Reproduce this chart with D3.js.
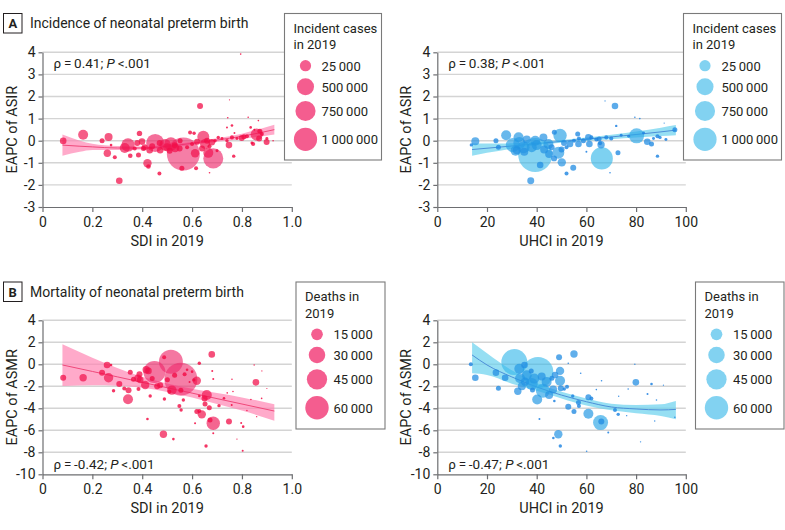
<!DOCTYPE html>
<html><head><meta charset="utf-8">
<script src="https://cdn.jsdelivr.net/npm/d3@7"></script>
<style>
html,body{margin:0;padding:0;background:#fff;}
svg{display:block;font-family:Roboto,"Noto Sans",sans-serif;}
</style></head>
<body>
<svg id="chart" width="785" height="530"></svg>
<script>
// ---------------- DATA ----------------
// Panel A left: incidence vs SDI  [SDI, EAPC of ASIR, incident cases]
const incSdiPoints = [
 [0.083,-0.01,113000],[0.163,0.27,260000],[0.239,0.0,65000],[0.265,0.17,166000],[0.26,-0.57,142000],
 [0.29,-0.75,42000],[0.308,-1.81,113000],[0.275,-0.2,18000],[0.343,-0.19,466000],[0.33,-0.33,260000],
 [0.352,-0.68,55000],[0.389,0.33,76000],[0.399,-0.04,113000],[0.385,-0.65,65000],[0.421,-1.02,183000],
 [0.425,-1.17,55000],[0.452,-0.1,841000],[0.43,-0.43,113000],[0.405,-0.35,65000],[0.472,-0.43,113000],
 [0.469,-1.48,42000],[0.492,-0.19,349000],[0.515,-0.15,466000],[0.532,-0.33,183000],[0.565,-0.6,2830000],
 [0.559,-1.25,65000],[0.552,0.0,65000],[0.592,0.37,42000],[0.608,0.34,30000],[0.612,-0.57,183000],
 [0.616,-1.25,42000],[0.645,0.18,374000],[0.652,-0.15,260000],[0.685,-0.8,1040000],[0.665,-0.55,260000],
 [0.632,1.57,93000],[0.679,-0.07,113000],[0.692,0.0,30000],[0.705,0.15,30000],[0.74,0.0,30000],
 [0.748,-0.2,113000],[0.76,0.15,42000],[0.767,-0.7,30000],[0.76,0.69,18000],[0.795,3.92,7000],
 [0.799,0.12,93000],[0.808,0.18,65000],[0.835,0.6,18000],[0.845,-0.15,42000],[0.859,0.28,374000],
 [0.872,0.43,65000],[0.869,0.1,93000],[0.899,-0.06,93000],[0.925,0.0,7000],[0.75,1.85,4000],
 [0.825,1.06,7000],[0.743,1.04,7000],[0.866,0.91,7000],[0.74,0.6,10000],[0.37,-0.35,42000],
 [0.38,-0.1,93000],[0.41,-0.3,93000],[0.44,-0.25,93000],[0.47,-0.1,93000],[0.5,-0.3,166000],
 [0.51,-0.45,93000],[0.53,-0.2,93000],[0.55,-0.35,93000],[0.58,-0.3,42000],[0.6,-0.15,42000],
 [0.62,-0.05,93000],[0.64,-0.35,93000],[0.66,0.0,93000],[0.67,-0.25,42000],[0.7,-0.45,23000],
 [0.72,0.1,23000],[0.78,0.1,23000],[0.82,0.2,42000],[0.84,-0.1,23000],[0.88,0.3,42000],
 [0.9,0.1,23000],[0.67,-1.45,7000],[0.77,0.35,10000],[0.85,0.5,10000]
];
// Panel A right: incidence vs UHCI  [UHCI, EAPC of ASIR, incident cases]
const incUhciPoints = [
 [13.7,-0.19,30000],[15.3,-0.03,166000],[23.6,0.0,65000],[24.6,-0.3,65000],[27.7,0.25,260000],
 [30.4,-0.2,509000],[32.7,0.16,260000],[32,-0.43,166000],[34.7,-0.3,374000],[39.4,-0.65,3000000],
 [37.6,-1.81,127000],[39.4,0.0,260000],[41.4,-1.1,113000],[42.7,0.15,166000],[44.7,-0.15,260000],
 [47.1,0.38,65000],[49.4,0.24,466000],[48.7,-0.55,374000],[50.1,-0.98,183000],[52,-1.48,42000],
 [54.7,-1.22,93000],[53.4,-0.15,113000],[56.5,0.3,65000],[56.8,-0.15,113000],[58.8,0.0,65000],
 [60.8,0.15,113000],[61.2,-0.15,113000],[65.9,-0.18,142000],[66.2,-0.8,1260000],[65.1,0.08,65000],
 [71.5,1.57,113000],[72,0.67,15000],[80.2,0.22,584000],[79.5,1.06,7000],[81.5,1.0,7000],
 [84.5,-0.05,113000],[86.2,-0.15,65000],[88.6,-0.7,30000],[88.6,0.2,42000],[89.6,0.15,30000],
 [95.6,0.5,65000],[91.3,0.8,4000],[67.5,1.8,4000],[69.5,-1.45,7000],[60,-0.5,10000],
 [72.7,-0.54,65000],[65.5,-0.12,42000],[35,-0.5,166000],[36,0.05,166000],[38,-0.3,260000],
 [40,-0.2,260000],[43,-0.4,166000],[45,-0.6,166000],[46,-0.3,93000],[47,-0.8,93000],
 [50,-0.4,93000],[51,-0.1,93000],[52,-0.3,42000],[55,0.0,42000],[57,0.1,42000],
 [62,0.15,42000],[64,0.05,42000],[68,0.15,42000],[70,0.1,42000],[74,0.25,23000],
 [77,0.2,23000],[83,0.35,23000],[87,0.1,23000],[92,0.05,23000],[33,-0.1,374000],[31.5,-0.45,260000]
];
// Panel B left: mortality vs SDI  [SDI, EAPC of ASMR, deaths]
const morSdiPoints = [
 [0.083,-1.22,3950],[0.163,-1.22,6000],[0.239,-0.76,3950],[0.259,-0.06,4800],[0.275,-0.06,740],
 [0.265,-1.22,9700],[0.285,-2.4,1270],[0.308,-1.8,3950],[0.328,-2.2,1750],[0.345,-2.35,3950],
 [0.343,-3.18,10960],[0.352,-0.73,2740],[0.365,-1.36,2740],[0.383,-1.27,6000],[0.389,-0.9,3950],
 [0.392,-1.42,4800],[0.385,-2.24,1750],[0.412,-1.88,7700],[0.416,-0.5,6000],[0.425,-0.6,4800],
 [0.449,-0.7,53000],[0.472,-1.9,3950],[0.488,0.64,1750],[0.515,0.24,63100],[0.555,-1.35,119000],
 [0.519,-2.35,9700],[0.555,-2.35,2740],[0.501,-1.4,2740],[0.509,-2.5,1750],[0.485,-6.36,6000],
 [0.525,-6.8,740],[0.549,-3.8,1750],[0.565,-3.24,1270],[0.619,-1.5,7700],[0.629,0.09,1270],
 [0.679,0.9,4800],[0.659,-2.79,10960],[0.65,-3.1,3950],[0.652,-3.6,2740],[0.619,-4.3,2740],
 [0.639,-4.55,7700],[0.629,-4.24,1750],[0.669,-3.95,2740],[0.685,-5.36,19700],[0.672,-5.06,2740],
 [0.656,-7.43,1270],[0.708,-3.76,1270],[0.748,-5.21,3950],[0.728,-3.09,740],[0.805,-5.67,740],
 [0.803,-7.85,440],[0.856,-1.64,4800],[0.681,-0.61,440],[0.685,-1.33,440],[0.6,-0.67,740],
 [0.607,-1.42,1270],[0.58,-0.5,740],[0.59,-1.6,440],[0.76,-1.36,280],[0.764,-2.47,280],
 [0.836,-3.2,280],[0.879,-3.1,280],[0.849,-0.06,215],[0.859,-4.76,215],[0.797,-5.33,440],
 [0.629,-2.88,740],[0.421,-4.97,740],[0.556,-4.15,1270],[0.432,-2.88,1270],[0.489,-3.15,1270],
 [0.612,-5.36,440],[0.685,-6.27,440],[0.741,-2.6,280],[0.759,-3.7,440],[0.46,-2.0,3950],
 [0.53,-1.0,2740],[0.57,-0.9,1750],[0.44,-1.3,2740],[0.88,-0.6,160],[0.9,-2.2,160],
 [0.82,-4.2,215],[0.78,-6.8,215]
];
// Panel B right: mortality vs UHCI  [UHCI, EAPC of ASMR, deaths]
const morUhciPoints = [
 [13.5,0.0,1750],[15.3,-1.22,4800],[23.6,-0.76,4800],[24.6,-2.18,2740],[27.3,-1.22,4800],
 [31,0.2,74100],[32.4,-2.45,6000],[35.1,-0.06,4800],[33.3,-1.27,10960],[35.3,-1.58,7700],
 [40.5,-0.75,105000],[42.5,-2.4,21500],[40.2,-3.2,10960],[49.4,-0.6,7700],[49.4,-1.5,10960],
 [49.7,-2.18,3950],[49,0.64,3950],[55,0.94,6000],[51.1,-2.24,1270],[52.7,-3.85,3950],
 [55,-4.3,2740],[56.8,-3.48,2740],[57,-3.79,1750],[60.8,-3.0,3950],[60.8,-4.5,10960],
 [65.7,-5.3,24700],[48.7,-6.36,7700],[49.5,-7.43,1270],[46.7,-6.7,740],[79.9,-1.64,4800],
 [86.2,-1.79,740],[84.6,-2.7,440],[71.5,-4.15,1750],[72.8,-4.55,1270],[68.8,-6.2,440],
 [60.1,-7.9,280],[41.1,-4.97,440],[47.1,-3.34,740],[52.2,-2.03,1750],[54.5,-2.88,1270],
 [66.1,-1.49,280],[57.7,-0.82,280],[52.7,0.09,280],[76.8,-2.24,280],[95.6,-4.82,280],
 [88.2,-3.24,280],[79.5,0.0,215],[87.5,-5.15,215],[81.8,-7.05,215],[76.2,-4.67,215],
 [46.6,-2.3,7010],[38.3,-2.33,2740],[37.8,-0.6,2740],[46.1,-1.27,2740],[47.4,-0.97,4800],
 [36,-1.0,10960],[38,-1.8,15780],[39,-1.3,10960],[33,-0.4,10960],[44,-1.6,10960],
 [42,-1.1,7010],[34,-2.0,7010],[45,-2.8,7010],[62,-3.1,1750],[66,-5.2,3950],
 [64,-2.3,280],[91,-1.9,160],[73,-2.9,215]
];

// Fitted curves with confidence bands
const incSdiFitX = [0.08,0.15,0.2,0.3,0.4,0.5,0.6,0.7,0.8,0.93];
const incSdiFit  = [-0.2,-0.25,-0.28,-0.33,-0.33,-0.25,-0.12,0.03,0.2,0.5];
const incSdiLow  = [-0.68,-0.5,-0.42,-0.42,-0.4,-0.32,-0.19,-0.05,0.08,0.28];
const incSdiHigh = [0.28,0.0,-0.14,-0.24,-0.26,-0.18,-0.05,0.11,0.32,0.72];

const incUhciFitX = [14,20,30,40,50,60,70,80,90,96];
const incUhciFit  = [-0.4,-0.34,-0.24,-0.13,-0.03,0.07,0.17,0.28,0.4,0.48];
const incUhciLow  = [-0.68,-0.55,-0.36,-0.2,-0.09,0.0,0.07,0.14,0.21,0.25];
const incUhciHigh = [-0.12,-0.13,-0.12,-0.06,0.03,0.14,0.27,0.42,0.59,0.71];

const morSdiFitX = [0.08,0.2,0.3,0.4,0.5,0.6,0.7,0.8,0.93];
const morSdiFit  = [-0.06,-0.65,-1.14,-1.64,-2.13,-2.62,-3.12,-3.61,-4.25];
const morSdiLow  = [-1.97,-1.9,-1.94,-2.14,-2.51,-3.02,-3.62,-4.21,-5.13];
const morSdiHigh = [1.82,0.6,-0.34,-1.14,-1.75,-2.22,-2.62,-3.01,-3.64];

const morUhciFitX = [14,20,30,40,50,60,70,80,90,96];
const morUhciFit  = [0.85,-0.06,-1.15,-2.06,-2.8,-3.4,-3.88,-4.06,-4.15,-4.1];
const morUhciLow  = [-0.82,-0.97,-1.76,-2.4,-3.1,-3.75,-4.18,-4.45,-4.7,-5.0];
const morUhciHigh = [2.0,1.0,-0.55,-1.7,-2.5,-3.1,-3.58,-3.7,-3.64,-3.34];

// Axis ticks
const sdiTicks = [0,0.2,0.4,0.6,0.8,1.0];
const sdiTickLabels = ["0","0.2","0.4","0.6","0.8","1.0"];
const uhciTicks = [0,20,40,60,80,100];
const uhciTickLabels = ["0","20","40","60","80","100"];
const asirTicks = [-3,-2,-1,0,1,2,3,4];
const asirTickLabels = ["-3","-2","-1","0","1","2","3","4"];
const asmrTicks = [-10,-8,-6,-4,-2,0,2,4];
const asmrTickLabels = ["-10","-8","-6","-4","-2","0","2","4"];

// Legends
const incLegendValues = [25000,500000,750000,1000000];
const incLegendLabels = ["25\u2009000","500\u2009000","750\u2009000","1\u2009000\u2009000"];
const morLegendValues = [15000,30000,45000,60000];
const morLegendLabels = ["15\u2009000","30\u2009000","45\u2009000","60\u2009000"];

const rhoValues = {incSdi:"0.41", incUhci:"0.38", morSdi:"-0.42", morUhci:"-0.47"};

// ---------------- DRAW ----------------
const svg = d3.select("#chart");
const txt = "#231f20";
const FONT = "Roboto,'Noto Sans',sans-serif";

const pinkTheme = {small:"#f2063e", large:"#ee2a6c", legend:"#f0276a", ribbon:"#ff86b4", line:"#f0487a"};
const blueTheme = {small:"#1a7ee0", large:"#36b8ea", legend:"#2eb4e8", ribbon:"#6ad2ee", line:"#4d8fd8"};

const rInc = d3.scaleSqrt().domain([0,3000000]).range([0,17]);
const rIncLegend = d3.scaleLinear().domain([25000,1000000]).range([5.6,11.6]);
const rMor = d3.scaleSqrt().domain([0,60000]).range([0,11.7]);

const opacityByR = d3.scaleLinear().domain([1,4,17]).range([0.85,0.7,0.6]).clamp(true);
const tByR = d3.scaleLinear().domain([1,10]).range([0,1]).clamp(true);

function zip(xs, a, b, c){ return xs.map((x,i)=>({x, f:a[i], lo:b[i], hi:c[i]})); }

function panel(cfg){
  const g = svg.append("g");
  const x = d3.scaleLinear().domain(cfg.xDomain).range([cfg.left, cfg.right]);
  const y = d3.scaleLinear().domain(cfg.yDomain).range([cfg.bottom, cfg.top]);

  // grid
  g.append("g").selectAll("line").data(cfg.yTicks.filter(d=>d!==cfg.yDomain[0])).join("line")
    .attr("x1", cfg.left).attr("x2", cfg.right)
    .attr("y1", d=>y(d)).attr("y2", d=>y(d))
    .attr("stroke","#d4d4d4").attr("stroke-width",1.4);

  // ribbon
  const fit = zip(cfg.fitX, cfg.fit, cfg.low, cfg.high);
  g.append("path").datum(fit)
    .attr("d", d3.area().x(d=>x(d.x)).y0(d=>y(d.lo)).y1(d=>y(d.hi)).curve(d3.curveMonotoneX))
    .attr("fill", cfg.theme.ribbon).attr("fill-opacity",0.7);
  g.append("path").datum(fit)
    .attr("d", d3.line().x(d=>x(d.x)).y(d=>y(d.f)).curve(d3.curveMonotoneX))
    .attr("fill","none").attr("stroke",cfg.theme.line).attr("stroke-width",1);

  // points
  const pts = cfg.points.map(p=>({x:p[0], y:p[1], v:p[2], r:cfg.rScale(p[2])}))
    .sort((a,b)=>b.r-a.r);
  const ci = d3.interpolateRgb(cfg.theme.small, cfg.theme.large);
  g.append("g").selectAll("circle").data(pts).join("circle")
    .attr("cx", d=>x(d.x)).attr("cy", d=>y(d.y)).attr("r", d=>Math.max(0.6,d.r))
    .attr("fill", d=>ci(tByR(d.r))).attr("fill-opacity", d=>opacityByR(d.r));

  // axes
  const xa = g.append("g").attr("transform",`translate(0,${cfg.bottom})`)
    .call(d3.axisBottom(x).tickValues(cfg.xTicks).tickFormat((d,i)=>cfg.xTickLabels[i]).tickSize(5).tickPadding(5).tickSizeOuter(0));
  const ya = g.append("g").attr("transform",`translate(${cfg.left},0)`)
    .call(d3.axisLeft(y).tickValues(cfg.yTicks).tickFormat((d,i)=>cfg.yTickLabels[i]).tickSize(4).tickPadding(3).tickSizeOuter(0));
  [xa,ya].forEach(a=>{
    a.select(".domain").attr("stroke","#6d6e71").attr("stroke-width",1.2);
    a.selectAll(".tick line").attr("stroke","#6d6e71").attr("stroke-width",1.2);
    a.selectAll(".tick text").attr("fill",txt).style("font-size","14px").style("font-family",FONT);
  });

  // axis titles
  svg.append("text").attr("x",(cfg.left+cfg.right)/2).attr("y",cfg.bottom+39)
    .attr("text-anchor","middle").attr("fill",txt).style("font-size","14.5px").text(cfg.xTitle);
  svg.append("text").attr("transform",`translate(${cfg.left-26},${(cfg.top+cfg.bottom)/2}) rotate(-90)`)
    .attr("text-anchor","middle").attr("fill",txt).style("font-size","14.5px").text(cfg.yTitle);

  // stat annotation
  const st = svg.append("text").attr("x",cfg.left+11).attr("y",cfg.statY).attr("fill",txt).style("font-size","13.5px");
  st.append("tspan").text("\u03c1\u2009=\u2009"+cfg.rho+"; ");
  st.append("tspan").style("font-style","italic").text("P");
  st.append("tspan").text("\u2009<.001");

  // legend
  const L = cfg.legend;
  svg.append("rect").attr("x",L.x).attr("y",L.y).attr("width",L.w).attr("height",L.h)
    .attr("fill","#fff").attr("stroke","#7a7a7a").attr("stroke-width",1.1);
  L.title.forEach((t,i)=>svg.append("text").attr("x",L.x+9).attr("y",L.y+19+i*16.5)
    .attr("fill",txt).style("font-size","13px").text(t));
  L.values.forEach((v,i)=>{
    const cy = L.rows[i];
    svg.append("circle").attr("cx",L.x+L.cx).attr("cy",cy).attr("r",L.rScale(v))
      .attr("fill",cfg.theme.legend).attr("fill-opacity",cfg.legendOpacity);
    svg.append("text").attr("x",L.x+L.tx).attr("y",cy+5).attr("fill",txt)
      .style("font-size","13px").text(L.labels[i]);
  });
}

const aTop=52.3, aBot=207, bTop=320.3, bBot=474.3;
panel({left:42.5,right:291.8,top:aTop,bottom:aBot,xDomain:[0,1],yDomain:[-3,4],
  xTicks:sdiTicks,xTickLabels:sdiTickLabels,yTicks:asirTicks,yTickLabels:asirTickLabels,
  points:incSdiPoints,rScale:rInc,fitX:incSdiFitX,fit:incSdiFit,low:incSdiLow,high:incSdiHigh,
  theme:pinkTheme,xTitle:"SDI in 2019",yTitle:"EAPC of ASIR",rho:rhoValues.incSdi,statY:68,legendOpacity:0.75,
  legend:{x:284.5,y:13.5,w:97,h:146.5,cx:21,tx:37,rows:[65.7,86.7,111,139.3],title:["Incident cases","in 2019"],
    values:incLegendValues,labels:incLegendLabels,rScale:rIncLegend}});
panel({left:437.3,right:685.8,top:aTop,bottom:aBot,xDomain:[0,100],yDomain:[-3,4],
  xTicks:uhciTicks,xTickLabels:uhciTickLabels,yTicks:asirTicks,yTickLabels:asirTickLabels,
  points:incUhciPoints,rScale:rInc,fitX:incUhciFitX,fit:incUhciFit,low:incUhciLow,high:incUhciHigh,
  theme:blueTheme,xTitle:"UHCI in 2019",yTitle:"EAPC of ASIR",rho:rhoValues.incUhci,statY:68,legendOpacity:0.6,
  legend:{x:683.5,y:13.5,w:98,h:146.5,cx:21.5,tx:38,rows:[65.7,86.7,111,139.3],title:["Incident cases","in 2019"],
    values:incLegendValues,labels:incLegendLabels,rScale:rIncLegend}});
panel({left:42.5,right:291.8,top:bTop,bottom:bBot,xDomain:[0,1],yDomain:[-10,4],
  xTicks:sdiTicks,xTickLabels:sdiTickLabels,yTicks:asmrTicks,yTickLabels:asmrTickLabels,
  points:morSdiPoints,rScale:rMor,fitX:morSdiFitX,fit:morSdiFit,low:morSdiLow,high:morSdiHigh,
  theme:pinkTheme,xTitle:"SDI in 2019",yTitle:"EAPC of ASMR",rho:rhoValues.morSdi,statY:469,legendOpacity:0.75,
  legend:{x:296,y:282,w:89,h:147,cx:21,tx:37.5,rows:[334.3,355,379.3,407.7],title:["Deaths in","2019"],
    values:morLegendValues,labels:morLegendLabels,rScale:rMor}});
panel({left:437.3,right:685.8,top:bTop,bottom:bBot,xDomain:[0,100],yDomain:[-10,4],
  xTicks:uhciTicks,xTickLabels:uhciTickLabels,yTicks:asmrTicks,yTickLabels:asmrTickLabels,
  points:morUhciPoints,rScale:rMor,fitX:morUhciFitX,fit:morUhciFit,low:morUhciLow,high:morUhciHigh,
  theme:blueTheme,xTitle:"UHCI in 2019",yTitle:"EAPC of ASMR",rho:rhoValues.morUhci,statY:469,legendOpacity:0.6,
  legend:{x:695.5,y:282,w:88.5,h:147,cx:21,tx:37.5,rows:[334.3,355,379.3,407.7],title:["Deaths in","2019"],
    values:morLegendValues,labels:morLegendLabels,rScale:rMor}});

// Section headings
function heading(letter, title, y){
  svg.append("rect").attr("x",3.5).attr("y",y).attr("width",18.5).attr("height",19.5)
    .attr("fill","#fff").attr("stroke","#231f20").attr("stroke-width",1);
  svg.append("text").attr("x",12.75).attr("y",y+14.5).attr("text-anchor","middle")
    .attr("fill",txt).style("font-size","13px").style("font-weight","bold").text(letter);
  svg.append("text").attr("x",30).attr("y",y+14.5).attr("fill",txt).style("font-size","14px").text(title);
}
heading("A","Incidence of neonatal preterm birth",13.5);
heading("B","Mortality of neonatal preterm birth",282);
</script>
</body></html>
